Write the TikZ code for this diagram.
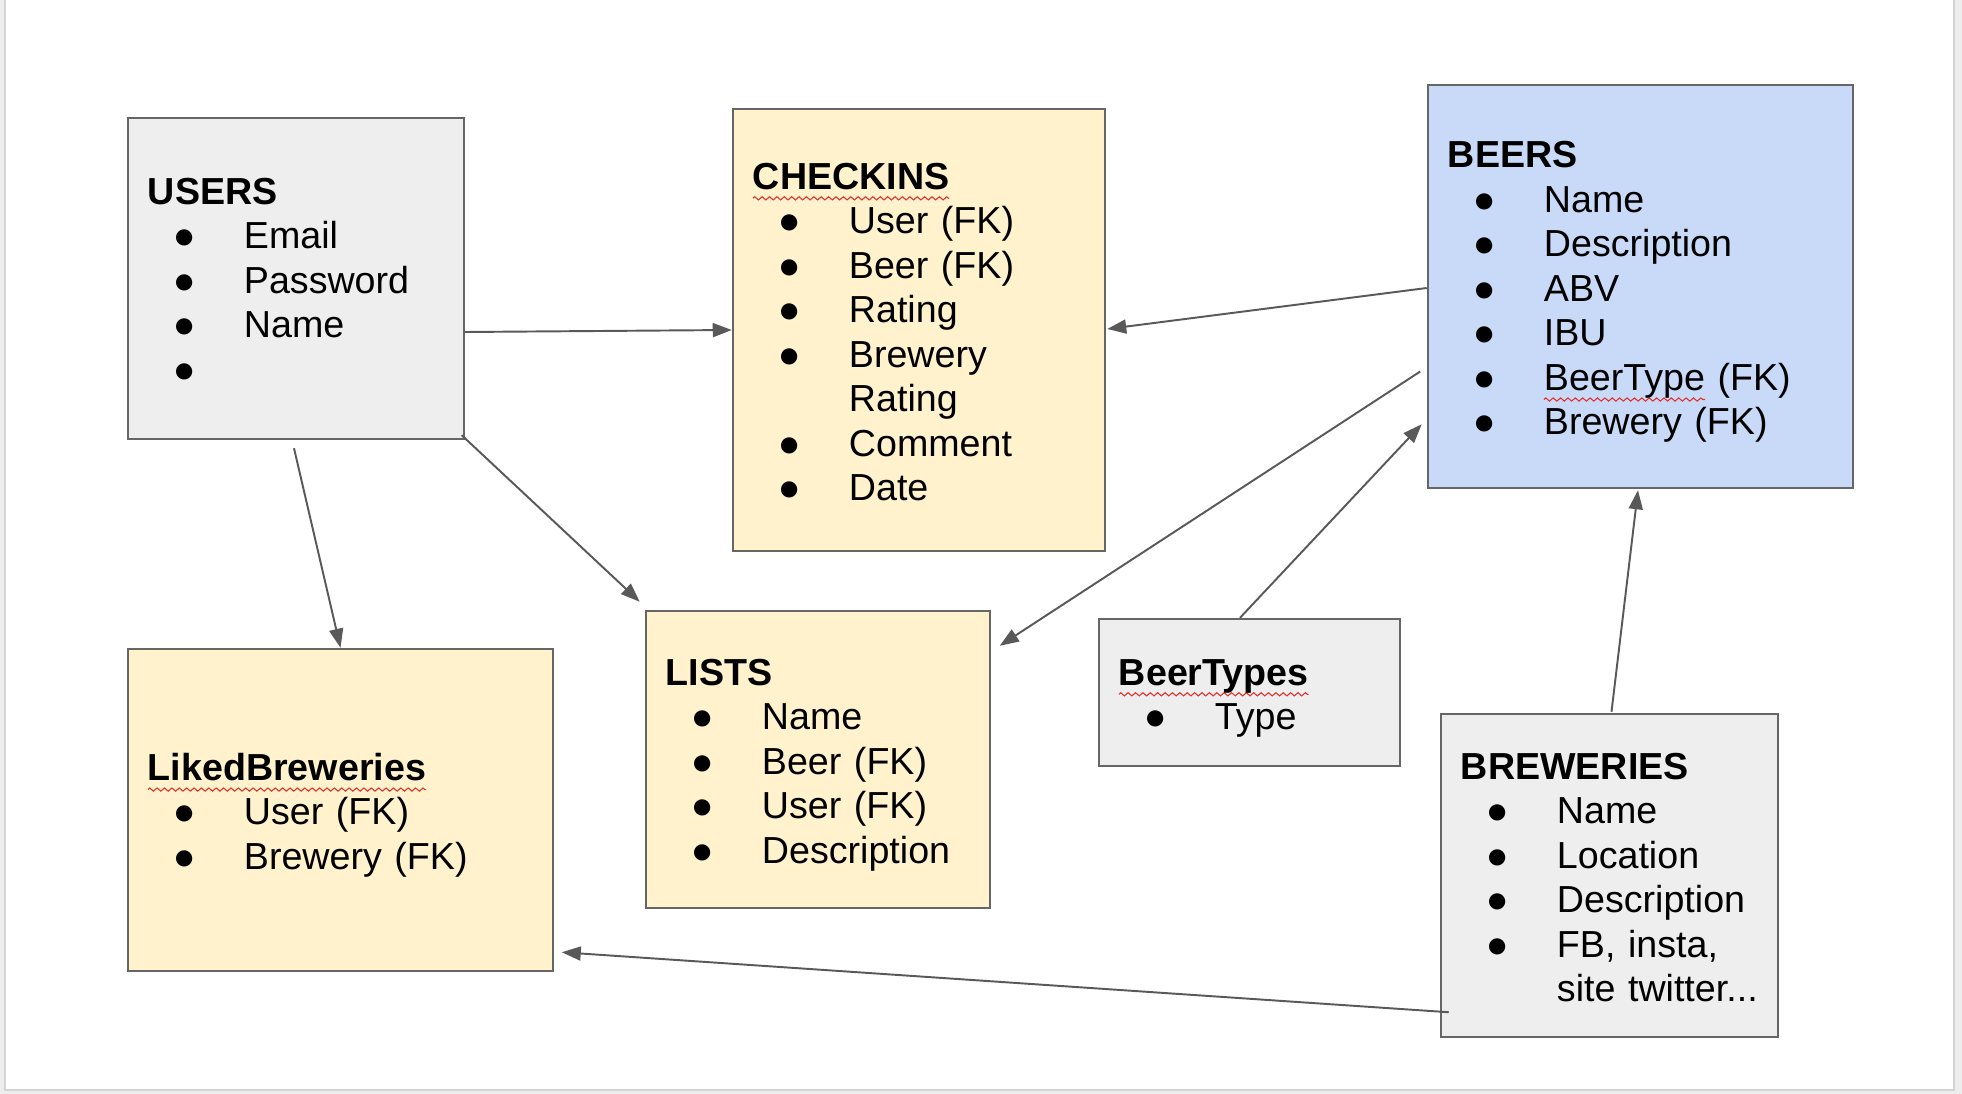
\documentclass[tikz,border=0pt]{standalone}
\usepackage{fontspec}
\setmainfont{Liberation Sans}
\usepackage{tikz}
\usetikzlibrary{arrows.meta}
\usetikzlibrary{calc}
\usetikzlibrary{decorations.pathmorphing}
\definecolor{boxline}{HTML}{666666}
\definecolor{linkgray}{HTML}{595959}
\definecolor{greyfill}{HTML}{EEEEEE}
\definecolor{creamfill}{HTML}{FFF2CC}
\definecolor{bluefill}{HTML}{C9DAF8}
\definecolor{pagegrey}{HTML}{EDEDED}
\definecolor{pageedge}{HTML}{D4D4D4}
\definecolor{spellred}{HTML}{E0302A}
\tikzstyle{entity} = [
    rectangle,
    draw=boxline,
    line width=0.65pt,
    inner xsep=0.2cm,
    inner ysep=0pt,
    align=left,
    font=\fontsize{10.7}{12.65}\selectfont
]
\tikzstyle{link}  = [
    draw=linkgray,
    line width=0.55pt,
    -{Triangle[length=0.19cm,width=0.14cm]}
]
\tikzstyle{squiggle} = [
    draw=spellred,
    line width=0.3pt,
    decorate,
    decoration={zigzag, amplitude=0.45pt, segment length=2.1pt}
]
\newenvironment{fields}{\begin{tabular}{@{}l@{}}\noalign{\vskip 0.12cm}}{\end{tabular}}
\newcommand{\bul}{\makebox[0.96cm][l]{\hspace{0.25cm}●}}
\newcommand{\nobul}{\hspace{0.96cm}}
\newlength{\squigwd}
\newcommand{\typo}[1]{\settowidth{\squigwd}{#1}\rlap{\tikz[overlay,baseline=0pt]\path[squiggle] (0pt,-2.6pt) -- (\squigwd,-2.6pt);}#1}

\begin{document}
\begin{tikzpicture}[x=0.01cm, y=-0.01cm]

\useasboundingbox (0,0) rectangle (1962,1094);
\fill[pagegrey] (0,0) rectangle (1962,1094);
\fill[white] (5,0) rectangle (1954,1090);
\draw[pageedge, line width=0.6pt] (5,0) -- (5,1090) -- (1954,1090) -- (1954,0);

\node[entity, fill=greyfill, minimum width=3.36cm, minimum height=3.21cm, text width=2.96cm] (users) at (296,278.5)
{
\begin{fields}
\textbf{USERS}\\
\bul Email\\
\bul Password\\
\bul Name\\
\bul
\end{fields}
};

\node[entity, fill=creamfill, minimum width=3.72cm, minimum height=4.42cm, text width=3.32cm] (checkins) at (919,330)
{
\begin{fields}
\textbf{\typo{CHECKINS}}\\
\bul User (FK)\\
\bul Beer (FK)\\
\bul Rating\\
\bul Brewery\\
\nobul Rating\\
\bul Comment\\
\bul Date
\end{fields}
};

\node[entity, fill=bluefill, minimum width=4.25cm, minimum height=4.03cm, text width=3.85cm] (beers) at (1640.5,286.5)
{
\begin{fields}
\textbf{BEERS}\\
\bul Name\\
\bul Description\\
\bul ABV\\
\bul IBU\\
\bul \typo{BeerType} (FK)\\
\bul Brewery (FK)
\end{fields}
};

\node[entity, fill=creamfill, minimum width=4.25cm, minimum height=3.22cm, text width=3.85cm] (liked) at (340.5,810)
{
\begin{fields}
\textbf{\typo{LikedBreweries}}\\
\bul User (FK)\\
\bul Brewery (FK)
\end{fields}
};

\node[entity, fill=creamfill, minimum width=3.44cm, minimum height=2.97cm, text width=3.04cm] (lists) at (818,759.5)
{
\begin{fields}
\textbf{LISTS}\\
\bul Name\\
\bul Beer (FK)\\
\bul User (FK)\\
\bul Description
\end{fields}
};

\node[entity, fill=greyfill, minimum width=3.01cm, minimum height=1.47cm, text width=2.61cm] (types) at (1249.5,692.5)
{
\begin{fields}
\textbf{\typo{BeerTypes}}\\
\bul Type
\end{fields}
};

\node[entity, fill=greyfill, minimum width=3.37cm, minimum height=3.23cm, text width=2.97cm] (breweries) at (1609.5,875.5)
{
\begin{fields}
\textbf{BREWERIES}\\
\bul Name\\
\bul Location\\
\bul Description\\
\bul FB, insta,\\
\nobul site twitter...
\end{fields}
};

\draw[link]  ($(users.east)+(0,53.5)$)            to  (checkins.west);
\draw[link]  ($(users.south east)+(-3.5,-5)$)     to  ($(lists.north west)+(-5,-8)$);
\draw[link]  ($(users.south)+(-2,8)$)             to  (liked.north);
\draw[link]  ($(beers.west)+(0,1.5)$)             to  ($(checkins.east)+(1,-1)$);
\draw[link]  ($(beers.west)+(-6.5,85)$)           to  ($(lists.north east)+(8.5,36)$);
\draw[link]  ($(types.north)+(-9.5,0)$)           to  ($(beers.south west)+(-5,-65)$);
\draw[link]  ($(breweries.north)+(2,-1)$)         to  ($(beers.south)+(-2.5,1)$);
\draw[link]  ($(breweries.south west)+(9,-26)$)   to  ($(liked.south east)+(7.5,-20)$);

\end{tikzpicture}
\end{document}
